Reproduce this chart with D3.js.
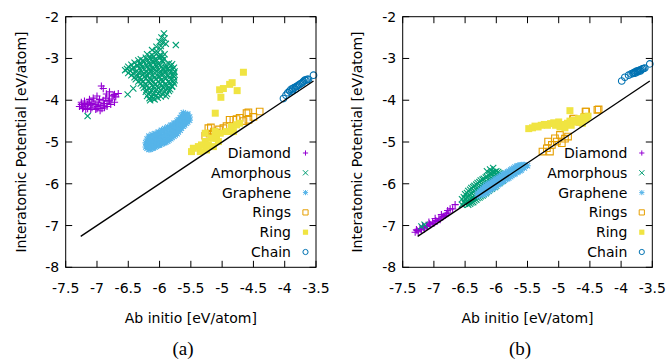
<!DOCTYPE html>
<html><head><meta charset="utf-8">
<script src="https://cdn.jsdelivr.net/npm/d3@7"></script>
<style>body{margin:0;background:#fff}svg{display:block}</style>
</head><body><svg id="c" width="670" height="362"></svg>
<script>
// ---------- DATA ----------
const xTicks = [-7.5,-7,-6.5,-6,-5.5,-5,-4.5,-4,-3.5];
const yTicks = [-2,-3,-4,-5,-6,-7,-8];
const xLabel = "Ab initio [eV/atom]";
const yLabel = "Interatomic Potential [eV/atom]";
const captions = ["(a)","(b)"];
const seriesNames = ["Diamond","Amorphous","Graphene","Rings","Ring","Chain"];
const seriesColors = ["#9400d3","#009e73","#56b4e9","#e69f00","#f0e442","#0072b2"];
const seriesMarkers = ["plus","cross","star","square","fsquare","circle"];
const refLine = [[-7.26,-7.26],[-3.54,-3.54]];

// panel (a)
const diamondA = [[-7.28,-4.15],[-7.25,-4.1],[-7.22,-4.18],[-7.2,-4.08],[-7.18,-4.14],[-7.15,-4.2],[-7.13,-4.05],[-7.1,-4.12],[-7.08,-4.18],[-7.05,-4.02],[-7.03,-4.1],[-7.0,-4.15],[-6.98,-4.05],[-6.96,-3.98],[-6.94,-4.12],[-6.92,-4.2],[-6.9,-4.0],[-6.88,-4.08],[-6.86,-3.95],[-6.84,-4.15],[-6.82,-4.02],[-6.8,-3.9],[-6.78,-4.1],[-6.76,-3.97],[-6.74,-3.88],[-6.72,-4.05],[-6.7,-3.92],[-6.66,-3.84],[-6.93,-3.66],[-6.9,-3.72],[-7.0,-3.9],[-7.06,-3.95],[-7.12,-3.98],[-6.95,-4.25],[-7.02,-4.22],[-6.85,-3.85],[-6.8,-3.8],[-6.72,-3.86],[-7.23,-4.2],[-7.1,-4.22],[-6.88,-4.18],
[-7.2,-4.02],[-7.15,-4.1],[-7.08,-4.08],[-7.0,-4.2],[-6.97,-4.12],[-6.9,-4.12],[-6.84,-4.08],[-6.8,-4.0],[-7.25,-4.05],[-7.18,-4.22]];
const amorphousA = [[-5.93,-2.4],[-5.97,-2.5],[-5.92,-2.52],[-6.0,-2.6],[-5.95,-2.62],[-6.05,-2.72],[-5.98,-2.7],[-5.9,-2.65],[-5.74,-2.68],[-6.12,-2.8],[-6.05,-2.82],[-5.98,-2.78],
[-6.2,-2.9],[-6.12,-2.92],[-6.05,-2.88],[-5.98,-2.93],[-5.92,-2.9],[-6.3,-3.02],[-6.22,-2.98],[-6.15,-3.0],[-6.08,-3.03],[-6.0,-2.98],[-5.93,-3.02],
[-6.4,-3.1],[-6.32,-3.12],[-6.25,-3.08],[-6.18,-3.11],[-6.1,-3.1],[-6.02,-3.13],[-5.95,-3.08],[-5.85,-3.12],
[-6.5,-3.2],[-6.42,-3.22],[-6.35,-3.18],[-6.28,-3.21],[-6.2,-3.2],[-6.12,-3.23],[-6.05,-3.19],[-5.97,-3.2],[-5.9,-3.22],[-5.82,-3.18],[-5.77,-3.22],
[-6.55,-3.28],[-6.47,-3.3],[-6.38,-3.32],[-6.3,-3.28],[-6.22,-3.31],[-6.15,-3.3],[-6.07,-3.27],[-6.0,-3.32],[-5.92,-3.3],[-5.84,-3.28],[-5.76,-3.31],
[-6.45,-3.4],[-6.35,-3.42],[-6.27,-3.38],[-6.19,-3.41],[-6.1,-3.4],[-6.02,-3.43],[-5.94,-3.38],[-5.86,-3.41],[-5.78,-3.4],
[-6.38,-3.5],[-6.3,-3.52],[-6.22,-3.48],[-6.14,-3.51],[-6.06,-3.5],[-5.98,-3.52],[-5.9,-3.48],[-5.82,-3.5],[-5.76,-3.52],
[-6.3,-3.6],[-6.22,-3.62],[-6.15,-3.58],[-6.07,-3.61],[-5.99,-3.6],[-5.91,-3.62],[-5.83,-3.58],[-5.77,-3.6],
[-6.42,-3.72],[-6.25,-3.7],[-6.17,-3.72],[-6.1,-3.68],[-6.02,-3.71],[-5.95,-3.7],[-5.87,-3.72],[-5.8,-3.68],
[-6.22,-3.8],[-6.15,-3.82],[-6.07,-3.78],[-6.0,-3.81],[-5.92,-3.8],[-5.85,-3.78],
[-6.2,-3.9],[-6.12,-3.92],[-6.05,-3.88],[-5.98,-3.91],[-5.9,-3.9],[-6.51,-3.86],[-6.15,-4.0],[-6.08,-3.98],[-7.15,-4.38],
[-6.16,-2.95],[-6.09,-2.96],[-6.01,-2.94],[-5.95,-2.96],
[-6.34,-3.05],[-6.26,-3.06],[-6.19,-3.04],[-6.11,-3.06],[-6.04,-3.05],[-5.96,-3.04],
[-6.45,-3.15],[-6.36,-3.16],[-6.29,-3.14],[-6.21,-3.16],[-6.14,-3.15],[-6.06,-3.14],[-5.99,-3.16],[-5.9,-3.15],[-5.8,-3.14],
[-6.52,-3.25],[-6.44,-3.26],[-6.32,-3.24],[-6.24,-3.26],[-6.16,-3.25],[-6.09,-3.24],[-6.01,-3.26],[-5.94,-3.25],[-5.86,-3.24],[-5.79,-3.26],
[-6.5,-3.35],[-6.42,-3.36],[-6.33,-3.34],[-6.25,-3.36],[-6.17,-3.35],[-6.08,-3.34],[-6.0,-3.36],[-5.92,-3.35],[-5.84,-3.34],[-5.77,-3.36],
[-6.4,-3.45],[-6.31,-3.46],[-6.24,-3.44],[-6.16,-3.46],[-6.08,-3.45],[-6.0,-3.44],[-5.92,-3.46],[-5.84,-3.45],[-5.77,-3.44],
[-6.34,-3.55],[-6.26,-3.56],[-6.18,-3.54],[-6.1,-3.56],[-6.02,-3.55],[-5.94,-3.54],[-5.86,-3.56],[-5.78,-3.55],
[-6.27,-3.65],[-6.2,-3.66],[-6.12,-3.64],[-6.04,-3.66],[-5.96,-3.65],[-5.88,-3.64],[-5.8,-3.66],
[-6.21,-3.75],[-6.13,-3.76],[-6.05,-3.74],[-5.98,-3.76],[-5.9,-3.75],[-5.83,-3.74],
[-6.18,-3.85],[-6.1,-3.86],[-6.02,-3.84],[-5.95,-3.86],[-5.88,-3.85],
[-6.16,-3.95],[-6.1,-3.96],[-6.03,-3.94]];
const grapheneA = [[-6.22,-5.12],[-6.22,-5.02],[-6.17,-5.18],[-6.17,-5.08],[-6.17,-4.98],[-6.17,-4.86],[-6.12,-5.15],[-6.12,-5.05],[-6.12,-4.95],[-6.12,-4.82],[-6.07,-5.12],[-6.07,-5.02],[-6.07,-4.92],[-6.07,-4.8],[-6.02,-5.08],[-6.02,-4.98],[-6.02,-4.88],[-6.02,-4.76],[-5.97,-5.05],[-5.97,-4.95],[-5.97,-4.85],[-5.97,-4.72],[-5.92,-5.02],[-5.92,-4.92],[-5.92,-4.82],[-5.92,-4.68],[-5.87,-4.98],[-5.87,-4.88],[-5.87,-4.78],[-5.87,-4.64],[-5.82,-4.92],[-5.82,-4.82],[-5.82,-4.72],[-5.82,-4.6],[-5.77,-4.86],[-5.77,-4.76],[-5.77,-4.65],[-5.77,-4.55],[-5.72,-4.8],[-5.72,-4.7],[-5.72,-4.6],[-5.72,-4.5],[-5.67,-4.72],[-5.67,-4.62],[-5.67,-4.52],[-5.67,-4.42],[-5.62,-4.62],[-5.62,-4.52],[-5.62,-4.4],[-5.62,-4.3],[-5.57,-4.55],[-5.57,-4.45],[-5.57,-4.35],[-5.52,-4.48],[-5.52,-4.4],[-5.55,-4.33],
[-6.2,-5.15],[-6.2,-5.05],[-6.2,-4.93],[-6.15,-5.17],[-6.15,-5.1],[-6.15,-5.0],[-6.15,-4.88],[-6.1,-5.14],[-6.1,-5.07],[-6.1,-4.97],[-6.1,-4.86],[-6.05,-5.1],[-6.05,-5.03],[-6.05,-4.93],[-6.05,-4.82],[-6.0,-5.07],[-6.0,-5.0],[-6.0,-4.9],[-6.0,-4.78],[-5.95,-5.03],[-5.95,-4.97],[-5.95,-4.87],[-5.95,-4.74],[-5.9,-5.0],[-5.9,-4.93],[-5.9,-4.83],[-5.9,-4.7],[-5.85,-4.95],[-5.85,-4.87],[-5.85,-4.77],[-5.85,-4.66],[-5.8,-4.89],[-5.8,-4.81],[-5.8,-4.7],[-5.8,-4.6],[-5.75,-4.83],[-5.75,-4.75],[-5.75,-4.65],[-5.75,-4.55],[-5.7,-4.76],[-5.7,-4.66],[-5.7,-4.57],[-5.7,-4.47],[-5.65,-4.67],[-5.65,-4.57],[-5.65,-4.47],[-5.65,-4.36],[-5.6,-4.59],[-5.6,-4.5],[-5.6,-4.4],[-5.55,-4.52],[-5.55,-4.44],[-5.55,-4.36]];
const ringsA = [[-5.22,-4.67],[-5.13,-4.75],[-4.98,-4.67],[-4.88,-4.47],[-4.77,-4.45],[-4.61,-4.31],[-4.58,-4.47],[-4.4,-4.27],[-5.18,-4.65],[-4.58,-4.29],[-4.82,-4.47],[-5.27,-4.85],[-5.14,-4.83],[-5.2,-4.8],[-5.16,-4.88],[-5.1,-4.78],[-5.05,-4.7],[-4.93,-4.62],[-4.72,-4.42],[-4.66,-4.5],[-4.5,-4.4]];
const ringA = [[-4.66,-3.33],[-4.88,-3.62],[-4.84,-3.58],[-5.04,-3.75],[-4.98,-3.72],[-4.76,-3.77],[-5.02,-3.93],[-5.11,-4.31],[-5.46,-5.15],[-5.38,-5.11],[-5.33,-5.07],[-5.27,-4.99],[-5.22,-5.07],[-5.17,-4.91],[-5.09,-4.91],[-5.03,-4.79],[-5.06,-4.99],[-4.93,-4.75],[-4.82,-4.75],[-4.77,-4.59],[-5.25,-5.19],[-5.35,-5.23],[-5.49,-5.23],[-5.11,-4.75],[-5.27,-4.79],[-5.14,-5.11],[-4.72,-4.55],[-4.85,-4.63]];
const chainA = [[-4.02,-3.96],[-3.98,-3.88],[-3.95,-3.82],[-3.92,-3.78],[-3.9,-3.74],[-3.87,-3.72],[-3.85,-3.7],[-3.82,-3.68],[-3.8,-3.66],[-3.78,-3.64],[-3.76,-3.62],[-3.74,-3.6],[-3.72,-3.58],[-3.7,-3.55],[-3.68,-3.52],[-3.66,-3.52],[-3.64,-3.5],[-3.62,-3.5],[-3.88,-3.78],[-3.83,-3.74],[-3.54,-3.4]];

// panel (b)
const diamondB = [[-7.3,-7.16],[-7.27,-7.12],[-7.25,-7.15],[-7.22,-7.08],[-7.2,-7.1],[-7.17,-7.05],[-7.15,-7.08],[-7.12,-7.0],[-7.1,-7.02],[-7.07,-6.96],[-7.05,-6.98],[-7.02,-6.92],[-7.0,-6.95],[-6.97,-6.88],[-6.95,-6.9],[-6.92,-6.84],[-6.9,-6.86],[-6.87,-6.8],[-6.85,-6.78],[-6.82,-6.76],[-6.8,-6.72],[-6.77,-6.7],[-6.74,-6.6],[-6.7,-6.6],[-6.66,-6.5],
[-7.28,-7.1],[-7.18,-7.01],[-7.08,-6.92],[-6.98,-6.83],[-6.88,-6.74],[-6.78,-6.64]];
const amorphousB = [[-7.15,-6.98],[-7.2,-7.02],[-6.55,-6.37],[-6.55,-6.5],[-6.5,-6.25],[-6.5,-6.36],[-6.5,-6.47],[-6.45,-6.17],[-6.45,-6.29],[-6.45,-6.41],[-6.45,-6.5],[-6.4,-6.1],[-6.4,-6.22],[-6.4,-6.34],[-6.4,-6.45],[-6.35,-6.05],[-6.35,-6.17],[-6.35,-6.29],[-6.35,-6.4],[-6.3,-5.98],[-6.3,-6.1],[-6.3,-6.22],[-6.3,-6.34],[-6.25,-5.92],[-6.25,-6.05],[-6.25,-6.17],[-6.25,-6.3],[-6.2,-5.88],[-6.2,-6.0],[-6.2,-6.12],[-6.2,-6.25],[-6.15,-5.83],[-6.15,-5.95],[-6.15,-6.07],[-6.15,-6.2],[-6.1,-5.75],[-6.1,-5.88],[-6.1,-6.0],[-6.1,-6.13],[-6.05,-5.72],[-6.05,-5.84],[-6.05,-5.96],[-6.05,-6.08],[-6.0,-5.7],[-6.0,-5.8],[-6.0,-5.92],[-6.0,-6.04],[-5.95,-5.75],[-5.95,-5.87],[-5.95,-5.98],[-5.9,-5.8],[-5.9,-5.92],[-6.1,-5.66],[-6.05,-5.62],[-6.15,-5.7],
[-6.52,-6.32],[-6.52,-6.43],[-6.47,-6.22],[-6.47,-6.33],[-6.47,-6.44],[-6.42,-6.14],[-6.42,-6.27],[-6.42,-6.38],[-6.42,-6.48],[-6.37,-6.08],[-6.37,-6.2],[-6.37,-6.33],[-6.37,-6.44],[-6.32,-6.02],[-6.32,-6.14],[-6.32,-6.27],[-6.32,-6.38],[-6.27,-5.96],[-6.27,-6.09],[-6.27,-6.21],[-6.27,-6.33],[-6.22,-5.9],[-6.22,-6.03],[-6.22,-6.15],[-6.22,-6.28],[-6.17,-5.85],[-6.17,-5.98],[-6.17,-6.1],[-6.17,-6.23],[-6.12,-5.8],[-6.12,-5.92],[-6.12,-6.05],[-6.12,-6.17],[-6.07,-5.76],[-6.07,-5.88],[-6.07,-6.0],[-6.07,-6.12],[-6.02,-5.72],[-6.02,-5.84],[-6.02,-5.96],[-6.02,-6.08],[-5.97,-5.72],[-5.97,-5.82],[-5.97,-5.94],[-5.92,-5.78],[-5.92,-5.88]];
const grapheneB = [[-6.3,-6.22],[-6.3,-6.3],[-6.25,-6.15],[-6.25,-6.25],[-6.2,-6.08],[-6.2,-6.18],[-6.2,-6.26],[-6.15,-6.02],[-6.15,-6.12],[-6.15,-6.2],[-6.1,-5.98],[-6.1,-6.07],[-6.1,-6.15],[-6.05,-5.93],[-6.05,-6.02],[-6.05,-6.1],[-6.0,-5.88],[-6.0,-5.96],[-6.0,-6.05],[-5.95,-5.83],[-5.95,-5.92],[-5.95,-6.0],[-5.9,-5.78],[-5.9,-5.87],[-5.9,-5.95],[-5.85,-5.74],[-5.85,-5.82],[-5.85,-5.9],[-5.8,-5.7],[-5.8,-5.78],[-5.8,-5.86],[-5.75,-5.65],[-5.75,-5.73],[-5.75,-5.8],[-5.7,-5.6],[-5.7,-5.68],[-5.7,-5.76],[-5.65,-5.57],[-5.65,-5.64],[-5.65,-5.71],[-5.6,-5.55],[-5.6,-5.6],[-5.6,-5.67],[-5.55,-5.55],[-5.55,-5.62],[-5.5,-5.57],
[-6.27,-6.2],[-6.27,-6.28],[-6.22,-6.12],[-6.22,-6.22],[-6.17,-6.05],[-6.17,-6.15],[-6.17,-6.23],[-6.12,-6.0],[-6.12,-6.1],[-6.12,-6.18],[-6.07,-5.95],[-6.07,-6.05],[-6.07,-6.12],[-6.02,-5.9],[-6.02,-6.0],[-6.02,-6.08],[-5.97,-5.86],[-5.97,-5.95],[-5.97,-6.02],[-5.92,-5.8],[-5.92,-5.9],[-5.92,-5.97],[-5.87,-5.76],[-5.87,-5.85],[-5.87,-5.92],[-5.82,-5.72],[-5.82,-5.8],[-5.82,-5.88],[-5.77,-5.67],[-5.77,-5.75],[-5.77,-5.83],[-5.72,-5.63],[-5.72,-5.7],[-5.72,-5.78],[-5.67,-5.58],[-5.67,-5.66],[-5.67,-5.73],[-5.62,-5.56],[-5.62,-5.62],[-5.62,-5.69],[-5.57,-5.55],[-5.57,-5.6]];
const ringsB = [[-4.36,-4.22],[-4.57,-4.27],[-4.57,-4.4],[-4.76,-4.44],[-4.85,-4.87],[-4.9,-4.92],[-5.03,-4.99],[-5.11,-5.07],[-5.19,-5.15],[-5.26,-5.23],[-5.17,-4.99],[-5.06,-4.91],[-4.98,-4.83],[-4.95,-5.03],[-5.14,-5.23],[-4.56,-4.27],[-4.38,-4.23],[-4.59,-4.41],[-4.77,-4.45],[-4.67,-4.51]];
const ringB = [[-5.48,-4.68],[-5.42,-4.66],[-5.38,-4.62],[-5.33,-4.64],[-5.28,-4.6],[-5.23,-4.58],[-5.18,-4.6],[-5.13,-4.56],[-5.08,-4.54],[-5.05,-4.6],[-5.0,-4.52],[-4.98,-4.64],[-4.93,-4.58],[-4.9,-4.66],[-4.86,-4.55],[-4.82,-4.5],[-4.8,-4.6],[-4.76,-4.48],[-4.72,-4.52],[-4.68,-4.44],[-4.64,-4.47],[-4.6,-4.4],[-4.56,-4.45],[-4.53,-4.38],[-4.82,-4.25],[-4.62,-4.55]];
const chainB = [[-3.99,-3.54],[-3.94,-3.45],[-3.88,-3.4],[-3.84,-3.37],[-3.81,-3.36],[-3.78,-3.33],[-3.76,-3.31],[-3.74,-3.3],[-3.72,-3.29],[-3.7,-3.28],[-3.68,-3.27],[-3.66,-3.25],[-3.64,-3.24],[-3.62,-3.23],[-3.8,-3.34],[-3.77,-3.35],[-3.73,-3.32],[-3.69,-3.3],[-3.54,-3.13]];

const panelData = [
  [diamondA, amorphousA, grapheneA, ringsA, ringA, chainA],
  [diamondB, amorphousB, grapheneB, ringsB, ringB, chainB]
];

// ---------- DRAW ----------
const svg = d3.select("#c");
const FONT = "'DejaVu Sans', sans-serif";
const FS = 14;
const panels = [
  {left:65.7, right:316, top:16.7, bottom:267.3, ylab:21, cap:183},
  {left:402.7, right:652.3, top:16.7, bottom:267.3, ylab:357, cap:520}
];

function markerPath(type, s){
  switch(type){
    case "plus": return `M${-s},0H${s}M0,${-s}V${s}`;
    case "cross": return `M${-s},${-s}L${s},${s}M${-s},${s}L${s},${-s}`;
    case "star": return `M${-s},0H${s}M0,${-s}V${s}M${-s*0.8},${-s*0.8}L${s*0.8},${s*0.8}M${-s*0.8},${s*0.8}L${s*0.8},${-s*0.8}`;
    case "square": case "fsquare": return `M${-s},${-s}H${s}V${s}H${-s}Z`;
    case "circle": return d3.arc()({innerRadius:0,outerRadius:s,startAngle:0,endAngle:2*Math.PI});
  }
}
const mSize = {plus:3.6, cross:3.1, star:3.3, square:3.3, fsquare:3.5, circle:3.3};

function drawMarker(g, type, color){
  const p = g.append("path").attr("d", markerPath(type, mSize[type]));
  if(type==="fsquare") p.attr("fill", color).attr("stroke","none");
  else p.attr("fill","none").attr("stroke", color).attr("stroke-width",1.1);
}

panels.forEach((P, pi)=>{
  const x = d3.scaleLinear().domain([-7.5,-3.5]).range([P.left,P.right]);
  const y = d3.scaleLinear().domain([-8,-2]).range([P.bottom,P.top]);
  const g = svg.append("g");

  panelData[pi].forEach((pts, si)=>{
    const sg = g.append("g");
    pts.forEach(d=>{
      const mg = sg.append("g").attr("transform",`translate(${x(d[0])},${y(d[1])})`);
      drawMarker(mg, seriesMarkers[si], seriesColors[si]);
    });
  });

  g.append("path").attr("d", d3.line().x(d=>x(d[0])).y(d=>y(d[1]))(refLine))
    .attr("stroke","#000").attr("stroke-width",1.3).attr("fill","none");

  g.append("rect").attr("x",P.left).attr("y",P.top).attr("width",P.right-P.left).attr("height",P.bottom-P.top)
    .attr("fill","none").attr("stroke","#000").attr("stroke-width",1);

  const tl = 6.5;
  xTicks.forEach(t=>{
    g.append("line").attr("x1",x(t)).attr("x2",x(t)).attr("y1",P.bottom).attr("y2",P.bottom-tl).attr("stroke","#000");
    g.append("line").attr("x1",x(t)).attr("x2",x(t)).attr("y1",P.top).attr("y2",P.top+tl).attr("stroke","#000");
    g.append("text").attr("x",x(t)).attr("y",P.bottom+26).attr("text-anchor","middle")
      .attr("font-family",FONT).attr("font-size",FS).text(t);
  });
  yTicks.forEach(t=>{
    g.append("line").attr("y1",y(t)).attr("y2",y(t)).attr("x1",P.left).attr("x2",P.left+tl).attr("stroke","#000");
    g.append("line").attr("y1",y(t)).attr("y2",y(t)).attr("x1",P.right).attr("x2",P.right-tl).attr("stroke","#000");
    g.append("text").attr("x",P.left-6.5).attr("y",y(t)+5).attr("text-anchor","end")
      .attr("font-family",FONT).attr("font-size",FS).text(t);
  });

  g.append("text").attr("x",(P.left+P.right)/2).attr("y",323).attr("text-anchor","middle")
    .attr("font-family",FONT).attr("font-size",FS).text(xLabel);
  g.append("text").attr("transform",`translate(${P.ylab},${(P.top+P.bottom)/2}) rotate(-90)`)
    .attr("text-anchor","middle").attr("dy","0.35em").attr("font-family",FONT).attr("font-size",FS).text(yLabel);

  g.append("text").attr("x",P.cap).attr("y",355).attr("text-anchor","middle")
    .attr("font-family","'Liberation Serif', serif").attr("font-size",19).text(captions[pi]);

  seriesNames.forEach((n, si)=>{
    const cy = 153 + si*19.8;
    g.append("text").attr("x",P.right-25).attr("y",cy+5).attr("text-anchor","end")
      .attr("font-family",FONT).attr("font-size",FS).text(n);
    const mg = g.append("g").attr("transform",`translate(${P.right-10.5},${cy})`);
    const p = mg.append("path").attr("d", markerPath(seriesMarkers[si], 2.6));
    if(seriesMarkers[si]==="fsquare") p.attr("fill",seriesColors[si]);
    else p.attr("fill","none").attr("stroke",seriesColors[si]).attr("stroke-width",1);
  });
});
</script></body></html>
